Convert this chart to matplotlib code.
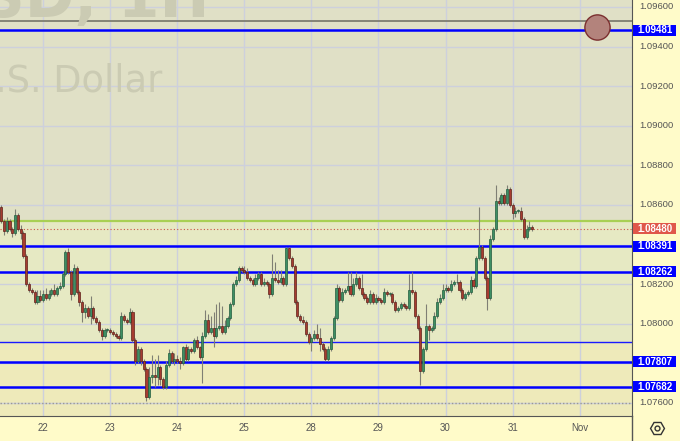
import matplotlib.pyplot as plt
from matplotlib.patches import Rectangle
from matplotlib.lines import Line2D

# hourly candles, EUR/USD, 21 Oct - 31 Oct
first_open = 1.0859
closes = [
    1.0852, 1.0847, 1.0852, 1.0848, 1.0846, 1.0855, 1.0848, 1.0846, 1.0834, 1.0820,
    1.0817, 1.0816, 1.0811, 1.0814, 1.0812, 1.0815, 1.0813, 1.0815, 1.0817, 1.0815,
    1.0818, 1.0819, 1.0825, 1.0836, 1.0826, 1.0815, 1.0828, 1.0816, 1.0811, 1.0806,
    1.0808, 1.0804, 1.0808, 1.0803, 1.0801, 1.0797, 1.0794, 1.0797, 1.0797, 1.0796,
    1.0795, 1.0794, 1.0793, 1.0804, 1.0802, 1.0801, 1.0806, 1.0792, 1.0781, 1.0787,
    1.0781, 1.0777, 1.0763, 1.0773, 1.0774, 1.0773, 1.0778, 1.0772, 1.0768, 1.0779,
    1.0785, 1.0781, 1.0782, 1.0781, 1.0780, 1.0788, 1.0782, 1.0787, 1.0786, 1.0792,
    1.0788, 1.0783, 1.0794, 1.0802, 1.0796, 1.0798, 1.0794, 1.0798, 1.0799, 1.0796,
    1.0799, 1.0803, 1.0810, 1.0820, 1.0822, 1.0828, 1.0827, 1.0826, 1.0823, 1.0822,
    1.0820, 1.0823, 1.0825, 1.0820, 1.0821, 1.0820, 1.0815, 1.0823, 1.0822, 1.0821,
    1.0823, 1.0820, 1.0838, 1.0833, 1.0829, 1.0811, 1.0804, 1.0802, 1.0801, 1.0795,
    1.0791, 1.0793, 1.0795, 1.0793, 1.0790, 1.0787, 1.0782, 1.0787, 1.0793, 1.0803,
    1.0818, 1.0812, 1.0816, 1.0817, 1.0819, 1.0815, 1.0820, 1.0823, 1.0818, 1.0815,
    1.0813, 1.0811, 1.0815, 1.0811, 1.0813, 1.0812, 1.0811, 1.0816, 1.0815, 1.0815,
    1.0811, 1.0807, 1.0808, 1.0810, 1.0809, 1.0808, 1.0817, 1.0816, 1.0804, 1.0798,
    1.0776, 1.0787, 1.0799, 1.0797, 1.0798, 1.0804, 1.0811, 1.0813, 1.0817, 1.0818,
    1.0817, 1.0820, 1.0821, 1.0821, 1.0817, 1.0813, 1.0815, 1.0816, 1.0822, 1.0819,
    1.0833, 1.0839, 1.0833, 1.0823, 1.0813, 1.0843, 1.0848, 1.0862, 1.0861, 1.0865,
    1.0861, 1.0868, 1.0860, 1.0856, 1.0857, 1.0857, 1.0853, 1.0844, 1.0848, 1.0849,
    1.0848,
]
# wick length beyond the body, in pips
wick_up = [
    1, 1, 2, 1, 1, 3, 1, 2, 1, 1,
    1, 1, 1, 3, 3, 2, 3, 2, 1, 3,
    1, 2, 1, 1, 2, 1, 2, 1, 1, 1,
    2, 1, 6, 1, 1, 1, 1, 1, 1, 1,
    1, 1, 1, 2, 1, 1, 2, 1, 1, 2,
    1, 1, 1, 5, 10, 8, 6, 1, 1, 2,
    2, 1, 3, 2, 2, 1, 2, 2, 1, 1,
    2, 1, 2, 5, 3, 6, 8, 12, 12, 10,
    3, 1, 1, 1, 2, 1, 1, 2, 2, 1,
    1, 2, 1, 1, 2, 1, 1, 12, 8, 5,
    4, 1, 1, 1, 1, 1, 1, 1, 2, 1,
    1, 1, 2, 5, 5, 1, 1, 2, 1, 1,
    2, 1, 2, 1, 7, 7, 3, 3, 1, 7,
    1, 1, 2, 1, 2, 1, 1, 2, 1, 1,
    1, 1, 1, 1, 1, 1, 8, 9, 1, 1,
    1, 1, 11, 1, 1, 2, 2, 2, 3, 2,
    1, 2, 1, 4, 1, 1, 1, 1, 2, 1,
    1, 20, 1, 1, 1, 2, 1, 8, 2, 1,
    1, 2, 1, 1, 2, 1, 2, 1, 2, 3,
    1,
]
wick_dn = [
    1, 2, 1, 1, 2, 1, 1, 3, 1, 1,
    1, 1, 1, 1, 1, 1, 1, 1, 1, 1,
    1, 1, 1, 1, 1, 3, 1, 1, 2, 5,
    3, 1, 4, 1, 1, 1, 2, 1, 1, 1,
    1, 1, 1, 1, 1, 1, 1, 1, 2, 1,
    2, 1, 2, 1, 3, 5, 4, 3, 1, 1,
    1, 1, 2, 1, 3, 1, 1, 1, 1, 1,
    1, 1, 13, 1, 1, 1, 6, 1, 1, 1,
    1, 1, 1, 1, 1, 1, 1, 1, 1, 1,
    1, 1, 1, 1, 1, 1, 2, 1, 1, 1,
    1, 1, 1, 1, 1, 1, 1, 1, 1, 1,
    1, 5, 1, 1, 4, 1, 1, 1, 1, 1,
    1, 1, 1, 1, 1, 1, 1, 1, 1, 1,
    1, 1, 1, 1, 1, 1, 1, 1, 1, 1,
    1, 1, 1, 1, 1, 1, 1, 1, 1, 1,
    7, 1, 1, 5, 1, 1, 1, 1, 1, 1,
    1, 1, 1, 1, 1, 1, 1, 1, 1, 1,
    1, 1, 1, 1, 6, 1, 1, 1, 1, 1,
    1, 1, 1, 3, 2, 1, 1, 1, 1, 1,
    1,
]

day_idx = [15, 39, 63, 87, 111, 135, 159, 183, 207]
day_labels = ["22", "23", "24", "25", "28", "29", "30", "31", "Nov"]

grid_prices = [1.096, 1.094, 1.092, 1.090, 1.088, 1.086, 1.084, 1.082, 1.080, 1.078, 1.076]
tick_prices = [1.096, 1.094, 1.092, 1.090, 1.088, 1.086, 1.082, 1.080, 1.076]
blue_levels = [1.09481, 1.08391, 1.08262, 1.07807, 1.07682]
thin_level = 1.0791
green_level = 1.0852
gray_level = 1.0953
last_price = 1.0848
circle_idx, circle_price = 213, 1.0950

bg_top, bg_mid, bg_low = "#e0e0c6", "#e6e9c3", "#eeeaba"
panel_bg = "#fffbc9"
up_col, up_edge = "#3e8f64", "#215c3e"
dn_col, dn_edge = "#a63c30", "#5e2019"

fig = plt.figure(figsize=(6.8, 4.41), dpi=100)
fig.patch.set_facecolor(panel_bg)
ax = fig.add_axes([0, 25 / 441, 632 / 680, 416 / 441])
ymin, ymax = 1.07534, 1.09635
ax.set_xlim(-0.4, 225.7)
ax.set_ylim(ymin, ymax)

ax.axhspan(green_level, ymax, color=bg_top, zorder=0)
ax.axhspan(thin_level, green_level, color=bg_mid, zorder=0)
ax.axhspan(ymin, thin_level, color=bg_low, zorder=0)

# watermark
fig.text(210 / 680, 1 - 17 / 441, "EUR/USD, 1H", ha="right", va="baseline",
         fontsize=43, fontweight="bold", color="#cbcbb3", zorder=0.5)
fig.text(162 / 680, 1 - 92 / 441, "Euro / U.S. Dollar", ha="right", va="baseline",
         fontsize=26.5, color="#cbcbb3", zorder=0.5)

# grid
for p in grid_prices:
    ax.axhline(p, color="#cdd0dc", lw=1, zorder=1)
for d in day_idx:
    ax.axvline(d, color="#cdd0dc", lw=1, zorder=1)

# levels
ax.axhline(gray_level, color="#7d7d70", lw=1.3, zorder=2)
ax.axhline(green_level, color="#a9d054", lw=1.6, zorder=2)
ax.axhline(thin_level, color="#1a1aff", lw=1.0, zorder=2)
for p in blue_levels:
    ax.axhline(p, color="#0000ff", lw=1.8, zorder=2)
ax.axhline(1.076, color="#9a9a90", lw=1, ls=(0, (1, 1.5)), zorder=2)
ax.axhline(last_price, color="#cc5544", lw=0.8, ls=(0, (1, 2)), zorder=2)

# candles
opens = [first_open] + closes[:-1]
for i, (o, c) in enumerate(zip(opens, closes)):
    top, bot = max(o, c), min(o, c)
    hi = top + wick_up[i] * 0.0001
    lo = bot - wick_dn[i] * 0.0001
    ax.vlines(i, lo, hi, color="#7f7f74", lw=0.8, zorder=3)
    fc, ec = (up_col, up_edge) if c >= o else (dn_col, dn_edge)
    ax.bar(i, max(top - bot, 0.00003), bottom=bot, width=0.75,
           color=fc, edgecolor=ec, lw=0.5, zorder=4)

ax.scatter([circle_idx], [circle_price], s=330, color="#b3837c",
           edgecolor="#7b2f2f", lw=1.0, zorder=6, clip_on=False)

# axes frame
for side in ["top", "left"]:
    ax.spines[side].set_visible(False)
ax.spines["right"].set_color("#555555")
ax.spines["bottom"].set_color("#555555")
fig.add_artist(Line2D([632 / 680, 632 / 680], [0, 25 / 441], color="#555555", lw=1))

ax.set_yticks([])
ax.set_xticks(day_idx)
ax.set_xticklabels(day_labels)
ax.tick_params(axis="x", length=0, pad=5, labelsize=7, labelcolor="#555555")
for lab in ax.get_xticklabels():
    lab.set_fontfamily("Liberation Sans")

# price scale
ytr = ax.get_yaxis_transform()
xc = 656 / 632
for p in tick_prices:
    ax.text(xc, p, f"{p:.5f}", transform=ytr, ha="center", va="center",
            fontsize=6.8, color="#555555", family="Liberation Sans", clip_on=False)
box_h = 11 * (ymax - ymin) / 416
labels = [(p, "#0000ff") for p in blue_levels] + [(last_price, "#e0574a")]
for p, col in labels:
    ax.add_patch(Rectangle((633 / 632, p - box_h / 2), 43 / 632, box_h, transform=ytr,
                           facecolor=col, edgecolor="none", zorder=7, clip_on=False))
    ax.text(xc - 0.002, p, f"{p:.5f}", transform=ytr, ha="center", va="center",
            fontsize=7, fontweight="bold", color="white", family="Liberation Sans",
            zorder=8, clip_on=False)

# settings icon
fig.add_artist(Line2D([657 / 680], [13 / 441], marker="H", ms=10, mfc="none",
                      mec="#333333", mew=1.0, transform=fig.transFigure))
fig.add_artist(Line2D([657 / 680], [13 / 441], marker="o", ms=3.5, mfc="none",
                      mec="#333333", mew=1.0, transform=fig.transFigure))

fig.savefig("out.png", dpi=100, facecolor=fig.get_facecolor())
